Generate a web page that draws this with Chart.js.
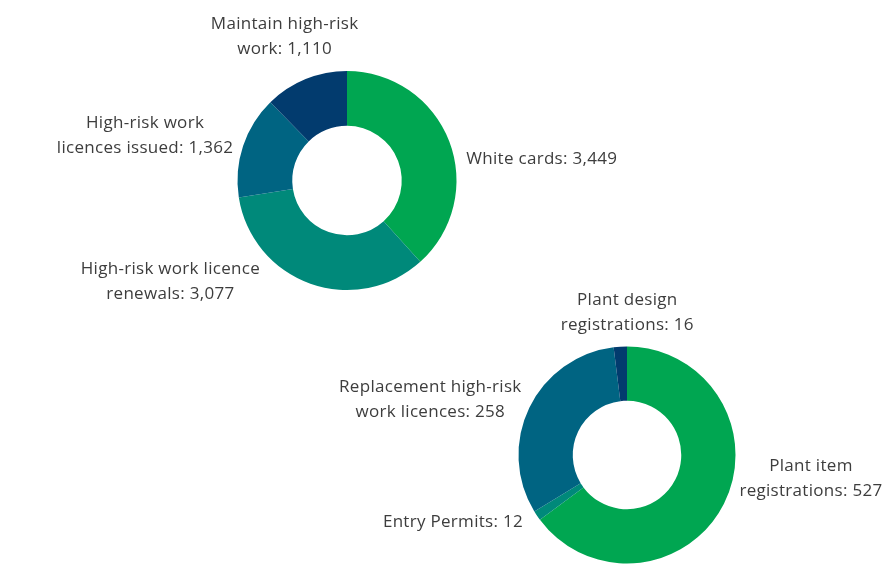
<!DOCTYPE html>
<html>
<head>
<meta charset="utf-8">
<title>Licences and registrations</title>
<script src="https://cdn.jsdelivr.net/npm/chart.js@4/dist/chart.umd.min.js"></script>
<style>
  html, body { margin: 0; padding: 0; background: #fff; }
  #wrap { position: relative; width: 896px; height: 567px; }
  #wrap canvas { position: absolute; left: 0; top: 0; }
</style>
</head>
<body>
<div id="wrap">
  <canvas id="licenceChart" width="896" height="567"></canvas>
  <canvas id="plantChart" width="896" height="567"></canvas>
</div>
<script>
// Licence activity (top donut)
const licenceLabels = [
  ['White cards'],
  ['High-risk work licence', 'renewals'],
  ['High-risk work', 'licences issued'],
  ['Maintain high-risk', 'work']
];
const licenceValues = [3449, 3077, 1362, 1110];

// Plant and permit activity (bottom donut)
const plantLabels = [
  ['Plant item', 'registrations'],
  ['Entry Permits'],
  ['Replacement high-risk', 'work licences'],
  ['Plant design', 'registrations']
];
const plantValues = [527, 12, 258, 16];

const GREEN = '#00a651';
const TEAL = '#00897a';
const BLUE = '#006482';
const NAVY = '#023b6e';

const licenceColors = [GREEN, TEAL, BLUE, NAVY];
const plantColors = [GREEN, TEAL, BLUE, NAVY];

// where each label block sits relative to the outer edge of its slice
const licenceLabelLayout = [
  { align: 'left', dx: 17, dy: 18 },
  { align: 'center', dx: -140, dy: -2 },
  { align: 'center', dx: -98, dy: -10 },
  { align: 'center', dx: -21, dy: -42 }
];
const plantLabelLayout = [
  { align: 'center', dx: 87, dy: -25 },
  { align: 'right', dx: -14, dy: 7 },
  { align: 'center', dx: -99, dy: -8 },
  { align: 'center', dx: 7, dy: -34 }
];

const FONT = '17px "Open Sans", Lato, sans-serif';
const LINE_HEIGHT = 25;

const sliceLabels = {
  id: 'sliceLabels',
  afterDatasetsDraw(chart, args, opts) {
    const ctx = chart.ctx;
    const meta = chart.getDatasetMeta(0);
    const values = chart.data.datasets[0].data;
    ctx.save();
    ctx.font = FONT;
    ctx.letterSpacing = '0.3px';
    ctx.fillStyle = '#3d3d3d';
    ctx.textBaseline = 'middle';
    meta.data.forEach((arc, i) => {
      const p = arc.getProps(['x', 'y', 'startAngle', 'endAngle', 'outerRadius'], true);
      const mid = (p.startAngle + p.endAngle) / 2;
      const lay = opts.layout[i];
      const ax = p.x + Math.cos(mid) * p.outerRadius + lay.dx;
      const ay = p.y + Math.sin(mid) * p.outerRadius + lay.dy;
      const lines = opts.labels[i].slice();
      lines[lines.length - 1] += ': ' + values[i].toLocaleString('en-US');
      const top = ay - (lines.length - 1) * LINE_HEIGHT / 2;
      ctx.textAlign = lay.align;
      lines.forEach((line, j) => ctx.fillText(line, ax, top + j * LINE_HEIGHT));
    });
    ctx.restore();
  }
};

function makeDonut(id, values, colors, labels, layout, padding) {
  return new Chart(document.getElementById(id), {
    type: 'doughnut',
    data: {
      labels: labels.map(l => l.join(' ')),
      datasets: [{
        data: values,
        backgroundColor: colors,
        borderWidth: 0
      }]
    },
    options: {
      responsive: false,
      animation: false,
      devicePixelRatio: 1,
      cutout: '50%',
      layout: { padding: padding },
      plugins: {
        legend: { display: false },
        tooltip: { enabled: false },
        sliceLabels: { labels: labels, layout: layout }
      }
    },
    plugins: [sliceLabels]
  });
}

makeDonut('licenceChart', licenceValues, licenceColors, licenceLabels, licenceLabelLayout,
  { left: 237.5, right: 439.5, top: 71, bottom: 277 });
makeDonut('plantChart', plantValues, plantColors, plantLabels, plantLabelLayout,
  { left: 518.5, right: 160.5, top: 346.5, bottom: 3.5 });
</script>
</body>
</html>
